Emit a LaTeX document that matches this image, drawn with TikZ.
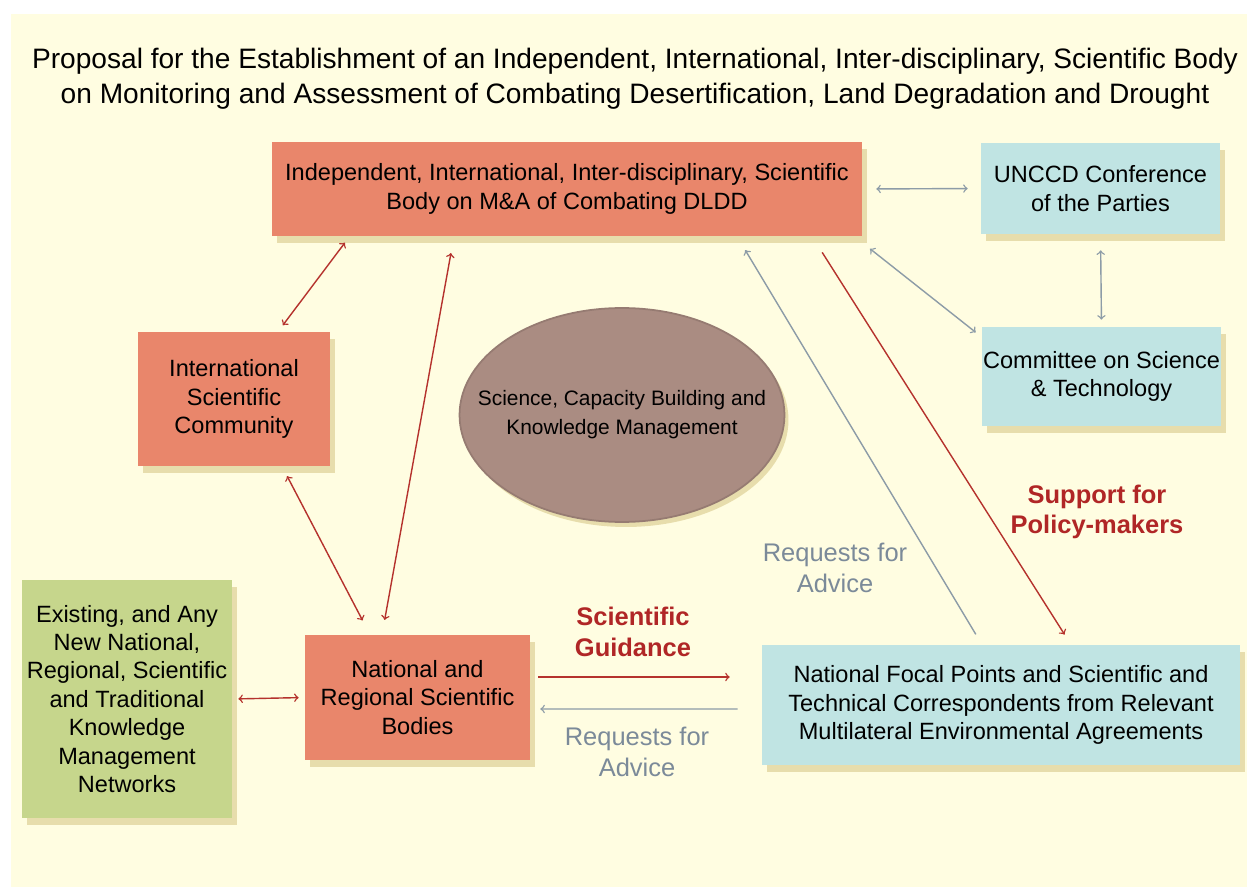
\documentclass[tikz,border=0pt]{standalone}
\usepackage{fontspec}
\setmainfont{Liberation Sans}
\usetikzlibrary{calc,shadows,shapes.geometric}

\definecolor{paper}{RGB}{255,253,225}
\definecolor{salmon}{RGB}{233,134,107}
\definecolor{paleblue}{RGB}{192,228,227}
\definecolor{olive}{RGB}{198,214,140}
\definecolor{taupe}{RGB}{170,140,130}
\definecolor{arrowred}{RGB}{181,50,45}
\definecolor{arrowgrey}{RGB}{141,156,167}
\definecolor{labelred}{RGB}{176,38,38}
\definecolor{labelgrey}{RGB}{123,138,153}
\definecolor{shadowtan}{RGB}{222,208,150}

\begin{document}
\begin{tikzpicture}[x=0.02cm,y=-0.02cm,
    box/.style={rectangle, align=center, inner sep=0pt,
      font=\fontsize{13.4}{16.2}\selectfont,
      drop shadow={shadow xshift=0.1cm, shadow yshift=-0.14cm, fill=shadowtan, opacity=0.7}},
    label node/.style={align=center, font=\fontsize{14.5}{17.5}\selectfont},
    redline/.style={<->, draw=arrowred, line width=0.8pt},
    greyline/.style={<->, draw=arrowgrey, line width=0.8pt}]

\useasboundingbox (0,0) rectangle (1247,888);
\fill[white] (0,0) rectangle (1247,888);
\fill[paper] (11,14) rectangle (1247,887);

\node[align=center, font=\fontsize{16}{19.8}\selectfont] (title) at (635,79)
  {Proposal for the Establishment of an Independent, International, Inter-disciplinary, Scientific Body\\
   on Monitoring and Assessment of Combating Desertification, Land Degradation and Drought};

% boxes
\node[box, fill=salmon, minimum width=11.8cm, minimum height=1.88cm] (body) at (567,189)
  {Independent, International, Inter-disciplinary, Scientific\\Body on M\&A of Combating DLDD};
\node[box, fill=paleblue, minimum width=4.78cm, minimum height=1.82cm] (unccd) at (1100.5,188.5)
  {UNCCD Conference\\of the Parties};
\node[box, fill=paleblue, minimum width=4.8cm, minimum height=1.98cm] (cst) at (1101.5,376.5)
  {Committee on Science\\\& Technology};
\node[box, fill=salmon, minimum width=3.84cm, minimum height=2.68cm] (isc) at (234,399)
  {International\\Scientific\\Community};
\node[ellipse, fill=taupe, draw=taupe!88!black, line width=1pt, inner xsep=-0.6cm, inner ysep=0pt,
  minimum width=6.5cm, minimum height=4.28cm,
  align=center, font=\fontsize{11.9}{16.4}\selectfont,
  drop shadow={shadow xshift=0.08cm, shadow yshift=-0.1cm, fill=shadowtan, opacity=0.7}] (scbkm) at (622,415)
  {Science, Capacity Building and\\Knowledge Management};
\node[box, fill=olive, minimum width=4.2cm, minimum height=4.76cm] (ekm) at (127,699)
  {Existing, and Any\\New National,\\Regional, Scientific\\and Traditional\\Knowledge\\Management\\Networks};
\node[box, fill=salmon, minimum width=4.5cm, minimum height=2.5cm] (nrsb) at (417.5,697.5)
  {National and\\Regional Scientific\\Bodies};
\node[box, fill=paleblue, minimum width=9.56cm, minimum height=2.4cm] (nfp) at (1001,705)
  {National Focal Points and Scientific and\\Technical Correspondents from Relevant\\Multilateral Environmental Agreements};

% labels
\node[label node, text=labelred, font=\fontsize{14.5}{17.5}\selectfont\bfseries] (lblguide) at (633,632) {Scientific\\Guidance};
\node[label node, text=labelgrey] (lblreqlow) at (637,752) {Requests for\\Advice};
\node[label node, text=labelgrey] (lblreqhigh) at (835,568) {Requests for\\Advice};
\node[label node, text=labelred, font=\fontsize{14.5}{17.5}\selectfont\bfseries] (lblpolicy) at (1097,512) {Support for\\Policy-makers};

\path
(body.east) edge[greyline, shorten <=0.28cm, shorten >=0.26cm] (unccd.west)
(unccd.south) edge[greyline, shorten <=0.32cm, shorten >=0.14cm] (cst.north)
($(body.south east)+(-8,0)$) edge[greyline, shorten <=0.4cm, shorten >=0.14cm] ($(cst.north west)+(0,10)$)
($(body.south west)+(78,0)$) edge[redline, shorten <=0.16cm, shorten >=0.16cm] ($(isc.north)+(44,0)$)
($(body.south)+(-113,0)$) edge[redline, shorten <=0.34cm, shorten >=0.3cm] ($(nrsb.north)+(-35.5,0)$)
($(isc.south)+(48,0)$) edge[redline, shorten <=0.22cm, shorten >=0.32cm] ($(nrsb.north)+(-47.5,0)$)
(ekm.east) edge[redline, shorten <=0.12cm, shorten >=0.12cm] (nrsb.west)
($(nrsb.east)+(0,-20.5)$) edge[redline, ->, shorten <=0.16cm, shorten >=0.64cm] ($(nfp.west)+(0,-28)$)
($(nfp.west)+(0,4)$) edge[greyline, ->, shorten <=0.48cm, shorten >=0.2cm] ($(nrsb.east)+(0,11.5)$)
($(nfp.north)+(-19,0)$) edge[greyline, ->, shorten <=0.24cm, shorten >=0.32cm] ($(body.south)+(170,0)$)
($(body.south)+(245,0)$) edge[redline, ->, shorten <=0.38cm, shorten >=0.24cm] ($(nfp.north)+(70,0)$);

\end{tikzpicture}
\end{document}
